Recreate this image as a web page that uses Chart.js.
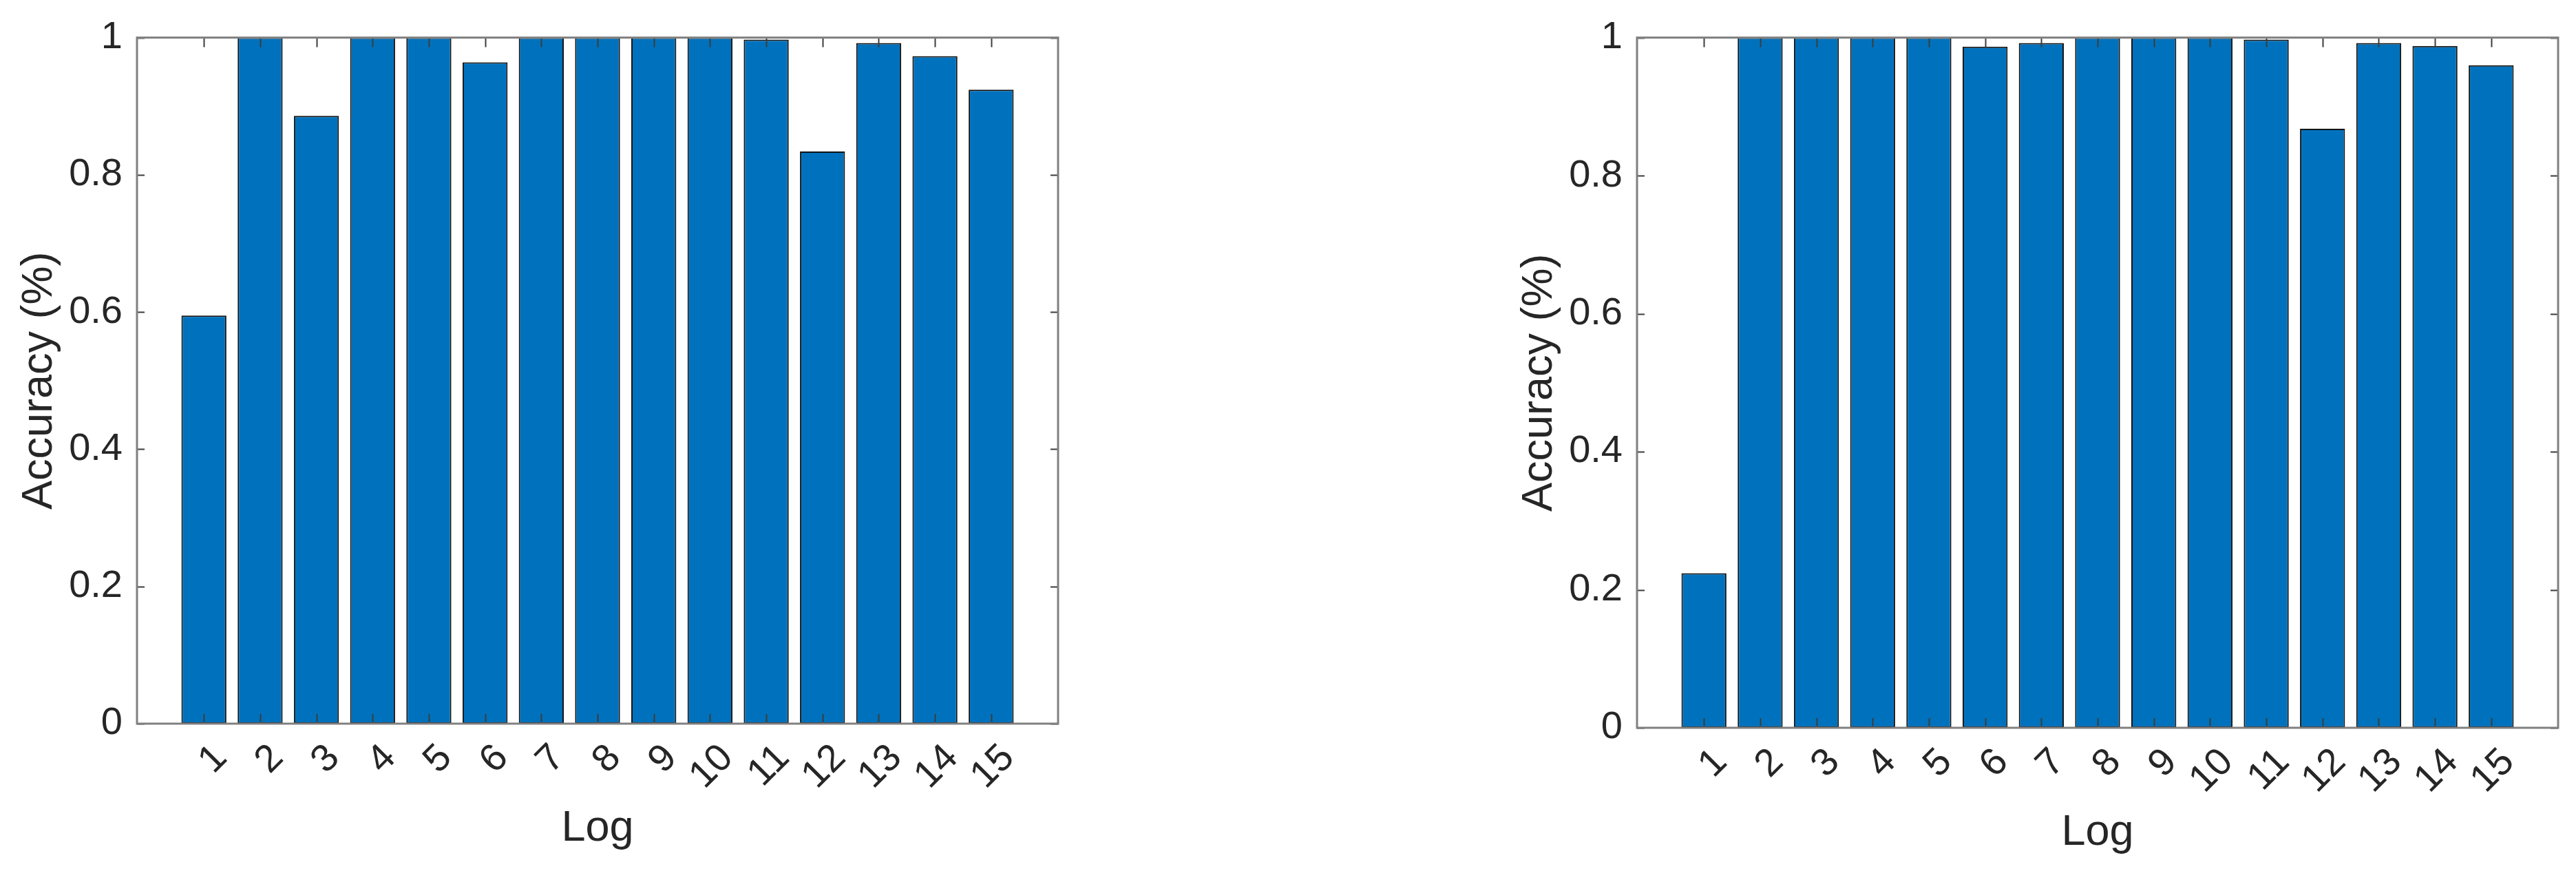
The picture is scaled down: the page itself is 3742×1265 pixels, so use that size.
<!DOCTYPE html>
<html>
<head>
<meta charset="utf-8">
<script src="https://cdn.jsdelivr.net/npm/chart.js@4.4.0/dist/chart.umd.min.js"></script>
<style>
  html, body { margin: 0; padding: 0; background: #fff; }
  body { width: 3742px; height: 1265px; position: relative; overflow: hidden; }
  canvas { position: absolute; top: 0; }
</style>
</head>
<body>
<canvas id="leftChart" width="1600" height="1265" style="left:0px"></canvas>
<canvas id="rightChart" width="1542" height="1265" style="left:2200px"></canvas>
<script>
// Log index on the x axis
const logs = [1, 2, 3, 4, 5, 6, 7, 8, 9, 10, 11, 12, 13, 14, 15];
// Accuracy per log
const leftAccuracy = [0.595, 1, 0.886, 1, 1, 0.964, 1, 1, 1, 1, 0.997, 0.834, 0.992, 0.973, 0.924];
const rightAccuracy = [0.224, 1, 1, 1, 1, 0.987, 0.992, 1, 1, 1, 0.997, 0.868, 0.992, 0.988, 0.96];
const yTicks = [0, 0.2, 0.4, 0.6, 0.8, 1];

const FONT = '"Liberation Sans", Arial, sans-serif';
const TEXT_COLOR = "#262626";

//Draws the matlab style box, inward ticks, rotated x labels and axis titles
const axesDecor = {
  id: "axesDecor",
  afterDatasetsDraw(chart) {
    const ctx = chart.ctx;
    const a = chart.chartArea;
    const x = chart.scales.x;
    const y = chart.scales.y;
    ctx.save();

    //Tick marks (inside the box, all four sides)
    ctx.strokeStyle = "#3c3c3c";
    ctx.lineWidth = 2;
    ctx.beginPath();
    x.ticks.forEach((t) => {
      const px = Math.round(x.getPixelForValue(t.value)) + 0.5;
      ctx.moveTo(px, a.bottom);
      ctx.lineTo(px, a.bottom - 14);
      ctx.moveTo(px, a.top);
      ctx.lineTo(px, a.top + 14);
    });
    y.ticks.forEach((t) => {
      const py = Math.round(y.getPixelForValue(t.value)) + 0.5;
      ctx.moveTo(a.left, py);
      ctx.lineTo(a.left + 11, py);
      ctx.moveTo(a.right, py);
      ctx.lineTo(a.right - 11, py);
    });
    ctx.stroke();

    //Box
    ctx.strokeStyle = "#808080";
    ctx.lineWidth = 3;
    ctx.strokeRect(a.left, a.top, a.right - a.left, a.bottom - a.top);

    //Rotated x tick labels
    ctx.fillStyle = TEXT_COLOR;
    ctx.font = "56px " + FONT;
    ctx.textAlign = "right";
    ctx.textBaseline = "middle";
    x.ticks.forEach((t) => {
      const px = x.getPixelForValue(t.value);
      ctx.save();
      ctx.translate(px + 25, a.bottom + 41);
      ctx.rotate(-Math.PI / 4);
      ctx.fillText(String(t.value), 0, 0);
      ctx.restore();
    });

    //Axis titles
    ctx.font = "63px " + FONT;
    ctx.textAlign = "center";
    ctx.textBaseline = "alphabetic";
    ctx.fillText("Log", (a.left + a.right) / 2, a.bottom + 170);
    ctx.save();
    ctx.translate(a.left - 124, (a.top + a.bottom) / 2);
    ctx.rotate(-Math.PI / 2);
    ctx.fillText("Accuracy (%)", 0, 0);
    ctx.restore();

    ctx.restore();
  },
};

function buildChart(canvasId, values, yWidth, xHeight, padRight) {
  const ctx = document.getElementById(canvasId);
  const points = logs.map((l, i) => ({ x: l, y: values[i] }));
  return new Chart(ctx, {
    type: "bar",
    data: {
      datasets: [
        {
          data: points,
          backgroundColor: "#0072BD",
          borderColor: "#141414",
          borderWidth: 2,
          borderSkipped: false,
          categoryPercentage: 1,
          barPercentage: 0.8,
        },
      ],
    },
    options: {
      responsive: false,
      animation: false,
      devicePixelRatio: 1,
      layout: { padding: { left: 0, right: padRight, top: 39, bottom: 0 } },
      plugins: {
        legend: { display: false },
        tooltip: { enabled: false },
      },
      scales: {
        x: {
          type: "linear",
          offset: false,
          min: -0.19,
          max: 16.19,
          grid: { display: false },
          border: { display: false },
          ticks: { display: false },
          afterBuildTicks: (scale) => {
            scale.ticks = logs.map((v) => ({ value: v }));
          },
          afterFit: (scale) => {
            scale.height = xHeight;
          },
        },
        y: {
          min: 0,
          max: 1,
          grid: { display: false, drawTicks: false },
          border: { display: false },
          ticks: {
            padding: 21,
            color: TEXT_COLOR,
            font: { family: FONT, size: 56 },
            callback: (value) => String(value),
          },
          afterBuildTicks: (scale) => {
            scale.ticks = yTicks.map((v) => ({ value: v }));
          },
          afterFit: (scale) => {
            scale.width = yWidth;
          },
        },
      },
    },
    plugins: [axesDecor],
  });
}

buildChart("leftChart", leftAccuracy, 199, 214, 63);
buildChart("rightChart", rightAccuracy, 178, 208, 26);
</script>
</body>
</html>
